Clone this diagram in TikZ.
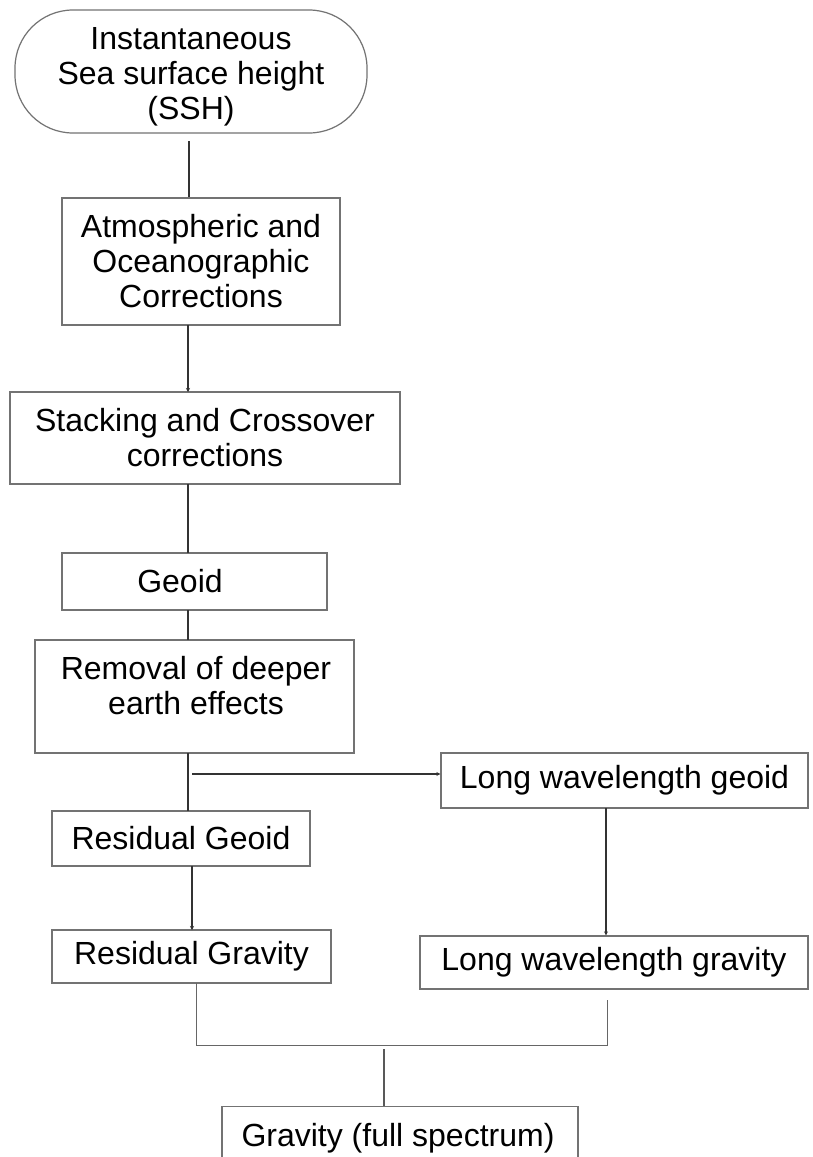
\documentclass[tikz,border=0pt]{standalone}
\usepackage{fontspec}
\setmainfont{Liberation Sans}
\usetikzlibrary{arrows.meta}
\begin{document}
\begin{tikzpicture}[x=1pt,y=-1pt,
  txt/.style={align=center,inner sep=0pt,font=\fontsize{32}{35}\selectfont},
  box/.style={draw=black!55,line width=1.2pt,rectangle,inner sep=0pt,txt},
  conn/.style={draw=black!80,line width=1.3pt},
  arr/.style={conn,-{Stealth[length=4pt,width=4pt]}}]
\useasboundingbox (0,0) rectangle (812,1157);
\clip (0,0) rectangle (812,1157);
\fill[white] (0,0) rectangle (812,1157);
\node[box,rounded corners=58pt,minimum width=352pt,minimum height=123pt] (ssh) at (191,71.5) {};
\node[txt] (sshtxt) at (191,77) {Instantaneous\\Sea surface height\\(SSH)};
\node[box,minimum width=278pt,minimum height=127pt] (atm) at (201,261.5)
  {Atmospheric and\\Oceanographic\\Corrections};
\node[box,minimum width=390pt,minimum height=92pt] (stack) at (205,438)
  {Stacking and Crossover\\corrections};
\node[box,minimum width=265pt,minimum height=57pt] (geoid) at (194.5,581.5) {};
\node[txt] (geoidtxt) at (180,581.5) {Geoid};
\node[box,minimum width=319pt,minimum height=113pt] (rem) at (194.5,696.5) {};
\node[txt] (remtxt) at (196,686) {Removal of deeper\\earth effects};
\node[box,minimum width=367pt,minimum height=55pt] (lwgeoid) at (624.5,780.5)
  {Long wavelength geoid};
\node[box,minimum width=258pt,minimum height=55pt] (resgeoid) at (181,838.5)
  {Residual Geoid};
\node[box,minimum width=279pt,minimum height=53pt] (resgrav) at (191.5,956.5)
  {Residual Gravity};
\node[box,minimum width=388pt,minimum height=53pt] (lwgrav) at (614,962.5)
  {Long wavelength gravity};
\node[box,minimum width=356pt,minimum height=66pt,anchor=north] (grav) at (400,1106) {};
\node[txt] (gravtxt) at (398,1138) {Gravity (full spectrum)};
% connectors
\coordinate (c1) at (189,141);
\draw[conn] (c1) -- (c1 |- atm.north);
\draw[arr] (188,325) -- (188,392);
\draw[conn] (188,484) -- (188,553);
\draw[conn] (188,610) -- (188,640);
\draw[conn] (188,753) -- (188,811);
\coordinate (br) at (192,774);
\draw[arr] (br) -- (br -| lwgeoid.west);
\draw[arr] (192,866) -- (192,930);
\coordinate (lg1) at (606,808);
\draw[arr] (lg1) -- (lg1 |- lwgrav.north);
\coordinate (m1) at (196,983);
\coordinate (m2) at (196,1045);
\coordinate (m3) at (607,1045);
\coordinate (m4) at (607,1000);
\draw[conn,line width=1pt,draw=black!60] (m1) -- (m2) -- (m3) -- (m4);
\coordinate (g1) at (384,1049);
\draw[conn,line width=1.1pt,draw=black!65] (g1) -- (g1 |- grav.north);
\end{tikzpicture}
\end{document}
